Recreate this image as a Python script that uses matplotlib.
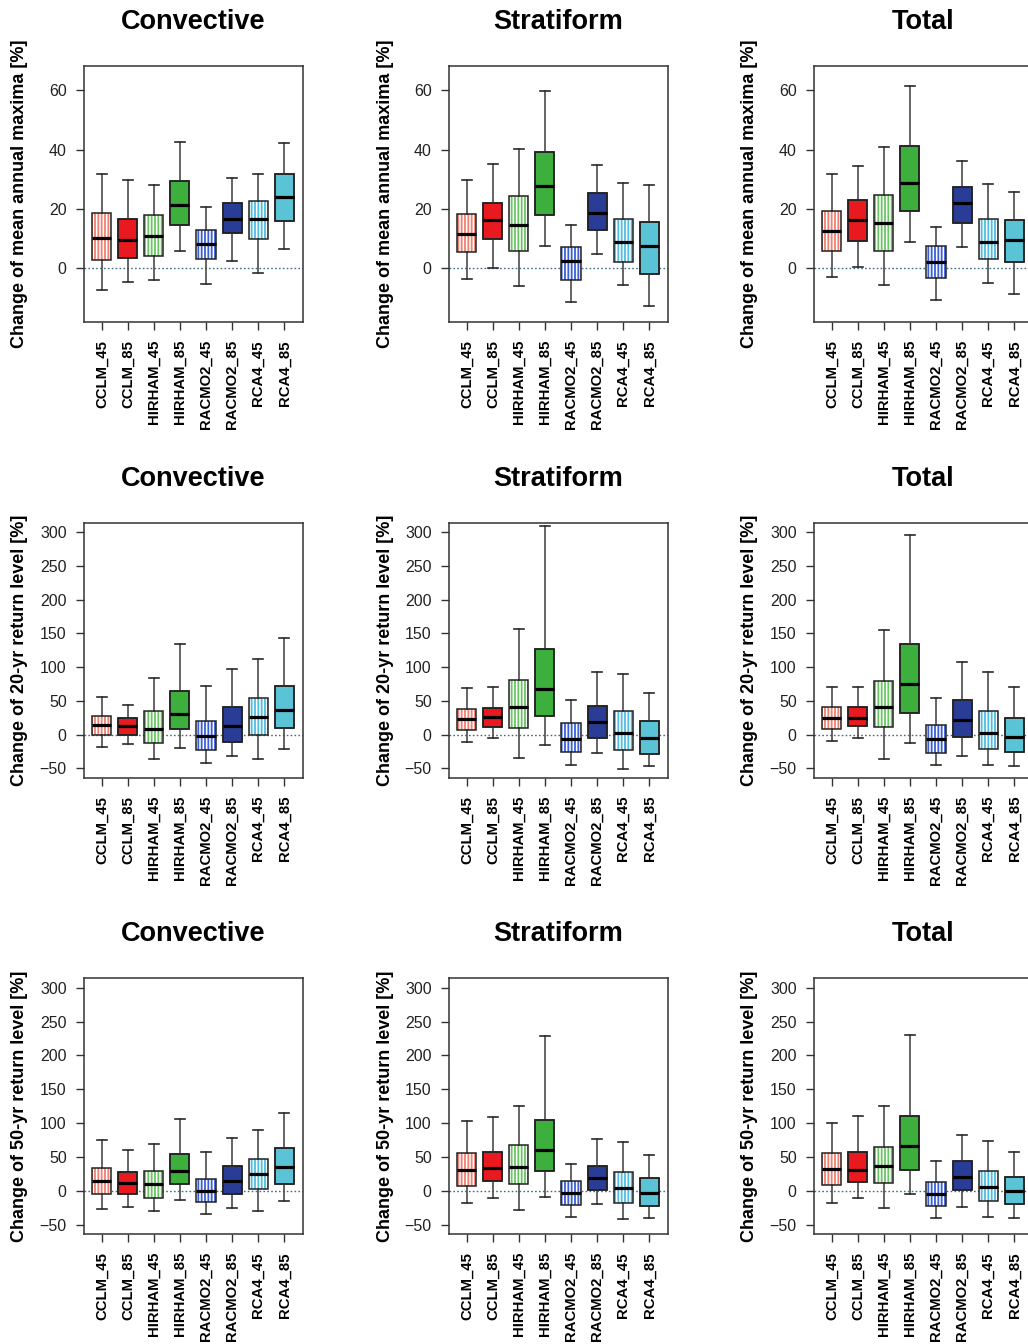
import matplotlib
matplotlib.use("Agg")
import matplotlib.pyplot as plt
from matplotlib.patches import PathPatch

plt.rcParams['font.family'] = ['Liberation Sans', 'DejaVu Sans']
plt.rcParams['hatch.linewidth'] = 1.3

# ---------------- data ----------------
models = ["CCLM_45", "CCLM_85", "HIRHAM_45", "HIRHAM_85",
          "RACMO2_45", "RACMO2_85", "RCA4_45", "RCA4_85"]
col_titles = ["Convective", "Stratiform", "Total"]
row_labels = ["Change of mean annual maxima [%]",
              "Change of 20-yr return level [%]",
              "Change of 50-yr return level [%]"]
yticks_mean = [0, 20, 40, 60]
yticks_rl = [-50, 0, 50, 100, 150, 200, 250, 300]

# each panel: [whisker low, Q1, median, Q3, whisker high] per model
conv_mean = [[-7.5, -4.7, -3.9, 5.9, -5.3, 2.5, -1.8, 6.3],
             [2.8, 3.4, 4.1, 14.6, 2.9, 11.7, 9.7, 15.8],
             [10.0, 9.5, 10.7, 21.4, 8.2, 16.5, 16.5, 24.0],
             [18.7, 16.5, 17.8, 29.4, 13.0, 22.0, 22.7, 31.9],
             [31.7, 29.8, 27.9, 42.7, 20.5, 30.5, 31.6, 42.3]]
strat_mean = [[-3.6, 0.0, -6.1, 7.4, -11.6, 4.7, -5.6, -12.7],
              [5.5, 9.7, 5.6, 17.9, -4.0, 12.9, 2.0, -1.9],
              [11.6, 16.1, 14.6, 27.8, 2.4, 18.5, 8.9, 7.3],
              [18.2, 22.1, 24.3, 39.3, 7.2, 25.3, 16.6, 15.6],
              [29.6, 35.2, 40.3, 59.8, 14.4, 34.7, 28.7, 27.9]]
total_mean = [[-2.9, 0.4, -5.6, 8.8, -10.8, 7.1, -5.1, -8.9],
              [5.7, 9.0, 5.8, 19.4, -3.3, 15.3, 3.0, 2.2],
              [12.5, 16.1, 15.3, 28.7, 2.2, 22.1, 8.8, 9.6],
              [19.2, 23.1, 24.5, 41.2, 7.3, 27.3, 16.4, 16.1],
              [31.8, 34.5, 41.0, 61.3, 13.7, 36.1, 28.4, 25.8]]
conv_rl20 = [[-17.8, -14.4, -36.1, -19.8, -42.1, -31.2, -36.1, -20.8],
             [-0.5, 0.0, -12.9, 8.4, -22.3, -10.4, -0.5, 9.9],
             [13.4, 11.9, 8.9, 30.2, -2.5, 12.9, 26.2, 36.6],
             [27.2, 23.8, 34.2, 64.9, 20.3, 41.1, 54.0, 71.3],
             [55.4, 43.6, 84.2, 134.7, 71.8, 96.5, 111.4, 142.6]]
strat_rl20 = [[-11.4, -5.0, -34.2, -15.8, -45.0, -26.7, -51.0, -46.5],
              [7.4, 10.9, 9.9, 27.7, -26.2, -5.0, -23.3, -28.7],
              [22.8, 25.7, 40.1, 67.3, -5.9, 18.3, 2.5, -4.5],
              [38.1, 39.1, 80.7, 126.2, 16.8, 41.6, 34.2, 20.3],
              [69.3, 70.8, 156.4, 309.4, 51.0, 92.6, 89.6, 61.4]]
total_rl20 = [[-9.9, -5.0, -36.1, -12.9, -44.6, -31.2, -45.5, -47.0],
              [8.4, 11.9, 11.4, 31.7, -27.7, -4.0, -20.8, -25.7],
              [24.3, 25.2, 40.6, 74.3, -6.9, 20.8, 3.0, -4.0],
              [40.1, 40.1, 78.7, 134.2, 14.4, 51.0, 35.1, 23.8],
              [69.8, 69.8, 155.0, 296.5, 53.5, 107.9, 93.1, 69.8]]
conv_rl50 = [[-27.3, -24.8, -30.3, -13.9, -34.2, -25.3, -29.3, -15.9],
             [-5.5, -5.5, -10.4, 9.4, -17.4, -4.5, 2.0, 10.4],
             [14.4, 10.9, 9.4, 29.3, 0.0, 14.4, 24.8, 34.7],
             [34.2, 28.3, 29.3, 54.6, 17.9, 36.2, 47.1, 62.5],
             [74.9, 60.0, 69.4, 106.6, 57.0, 78.4, 89.8, 115.6]]
strat_rl50 = [[-17.9, -11.4, -28.3, -9.9, -38.7, -20.3, -42.2, -40.7],
              [6.9, 14.4, 10.4, 28.8, -21.8, 1.0, -17.9, -22.8],
              [30.8, 34.2, 35.2, 60.5, -4.0, 18.4, 3.5, -3.0],
              [56.1, 57.5, 67.0, 104.2, 13.9, 36.7, 28.3, 18.4],
              [103.7, 108.6, 125.5, 228.2, 39.7, 76.9, 71.9, 52.6]]
total_rl50 = [[-18.3, -11.4, -26.3, -5.5, -40.2, -24.3, -38.7, -40.7],
              [7.9, 12.4, 11.9, 30.7, -23.3, 1.0, -15.9, -20.3],
              [31.7, 31.2, 36.7, 65.4, -5.5, 20.8, 5.0, 0.0],
              [55.5, 57.0, 64.0, 110.1, 12.4, 43.6, 29.7, 20.3],
              [100.1, 110.1, 125.9, 230.5, 43.6, 82.3, 72.9, 56.5]]

panels = [[conv_mean, strat_mean, total_mean],
          [conv_rl20, strat_rl20, total_rl20],
          [conv_rl50, strat_rl50, total_rl50]]

# ---------------- styling ----------------
box_colors = ["#F08070", "#E8191F", "#6CC464", "#3CAF3C",
              "#3A5FD8", "#2A3D96", "#4FBCE0", "#5BC3D6"]
hatched = [True, False, True, False, True, False, True, False]

W, H = 1028, 1344
fig = plt.figure(figsize=(W / 100, H / 100), dpi=100)

col_left = [84, 449, 814]
ax_w = 219
row_top = [66, 522.7, 978.3]
row_bot = [322, 777.7, 1234]
ylims = [(-18.2, 68.2), (-64, 314), (-64, 314)]
ytick_sets = [yticks_mean, yticks_rl, yticks_rl]
axis_col = "#333333"

for r in range(3):
    for c in range(3):
        left = col_left[c] / W
        bottom = 1 - row_bot[r] / H
        height = (row_bot[r] - row_top[r]) / H
        ax = fig.add_axes([left, bottom, ax_w / W, height])
        data = panels[r][c]
        stats = []
        for i, m in enumerate(models):
            stats.append(dict(whislo=data[0][i], q1=data[1][i], med=data[2][i],
                              q3=data[3][i], whishi=data[4][i], fliers=[], label=m))
        res = ax.bxp(stats, positions=range(1, 9), widths=0.73, capwidths=0.37,
                     patch_artist=True, showfliers=False,
                     medianprops=dict(color="black", linewidth=2.3, zorder=4,
                                      solid_capstyle="butt"),
                     whiskerprops=dict(color="#4A4A4A", linewidth=1.2),
                     capprops=dict(color="#2A2A2A", linewidth=1.2))
        for i, box in enumerate(res["boxes"]):
            if hatched[i]:
                box.set_facecolor("white")
                box.set_edgecolor(box_colors[i])
                box.set_hatch("|||||")
                box.set_linewidth(0)
            else:
                box.set_facecolor(box_colors[i])
                box.set_edgecolor("#222222")
                box.set_linewidth(1.1)
            box.set_zorder(2)
            overlay = PathPatch(box.get_path(), facecolor="none",
                                edgecolor="#222222", linewidth=1.1, zorder=3)
            ax.add_patch(overlay)

        ax.axhline(0, color="#3F6F86", linestyle=(0, (1.2, 1.6)), linewidth=1.0, zorder=1)
        ax.set_xlim(0.32, 8.72)
        ax.set_ylim(*ylims[r])
        ax.set_yticks(ytick_sets[r])
        ax.set_xticks(range(1, 9))
        ax.set_xticklabels(models, rotation=90, fontweight="bold", fontsize=10.7,
                           color="black")
        ax.tick_params(axis="y", labelsize=11.5, labelcolor="#222222",
                       length=6, pad=6.5, color=axis_col, width=1)
        ax.tick_params(axis="x", length=6, pad=7, color=axis_col, width=1)
        for sp in ax.spines.values():
            sp.set_color(axis_col)
            sp.set_linewidth(1.1)
        ax.text(0.5, 1 + 44 / 256, col_titles[c], transform=ax.transAxes,
                ha="center", va="center", fontsize=19.5, fontweight="bold")
        ax.text(-64 / ax_w, 0.5, row_labels[r], transform=ax.transAxes,
                rotation=90, ha="center", va="center", fontsize=13,
                fontweight="bold")

fig.savefig("out.png", dpi=100)
